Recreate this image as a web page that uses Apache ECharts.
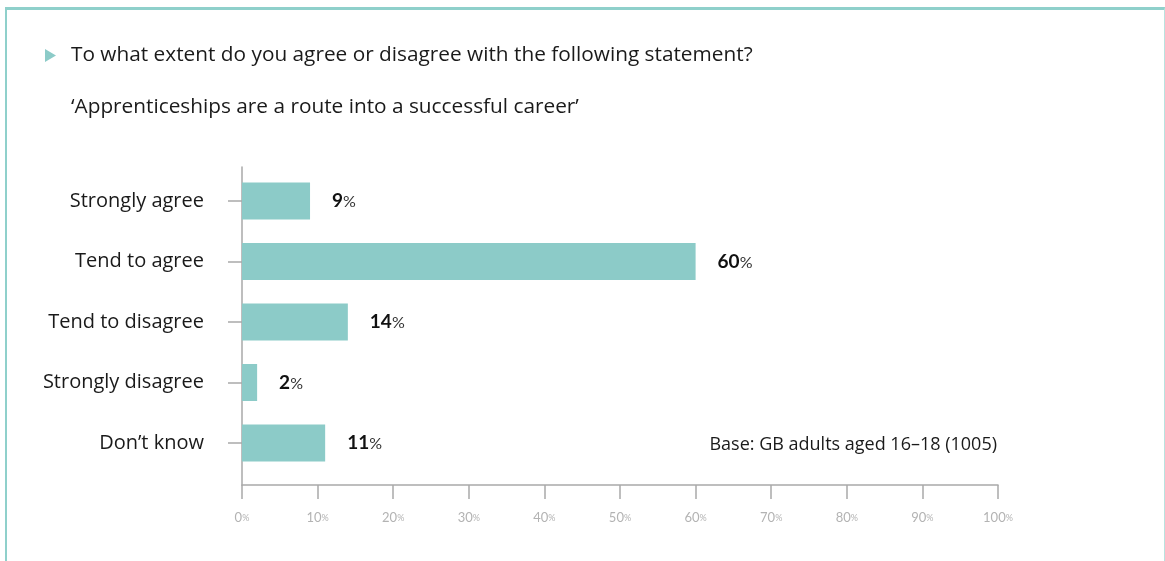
<!DOCTYPE html>
<html>
<head>
<meta charset="utf-8">
<title>Apprenticeships survey</title>
<script src="https://cdn.jsdelivr.net/npm/echarts@6/dist/echarts.min.js"></script>
<style>
  html, body { margin: 0; padding: 0; background: #ffffff; }
  #chart { width: 1165px; height: 561px; }
  #frame {
    position: absolute; left: 5px; top: 7px; width: 1157px; height: 570px;
    border-top: 3px solid #8fd0cb; border-left: 2px solid #8fd0cb; border-right: 1px solid #b9e2df;
    pointer-events: none;
  }
</style>
</head>
<body>
<div id="chart"></div>
<div id="frame"></div>
<script>
// Survey responses, in display order (top to bottom)
const categories = ['Strongly agree', 'Tend to agree', 'Tend to disagree', 'Strongly disagree', 'Don\u2019t know'];
const shares = [9, 60, 14, 2, 11];
const tickValues = [0, 10, 20, 30, 40, 50, 60, 70, 80, 90, 100];

const questionText = 'To what extent do you agree or disagree with the following statement?';
const statementText = '\u2018Apprenticeships are a route into a successful career\u2019';
const baseText = 'Base: GB adults aged 16\u201318 (1005)';

const FONT = '"Open Sans", "Noto Sans", sans-serif';
const BOLD_FONT = 'Lato, "Open Sans", sans-serif';
const TEAL = '#8ccbc8';
const AXIS = '#a9a9a9';

const chart = echarts.init(document.getElementById('chart'), null, { renderer: 'canvas' });

chart.setOption({
  backgroundColor: '#ffffff',
  animation: false,
  textStyle: { fontFamily: FONT },
  graphic: [
    { type: 'polygon', shape: { points: [[45, 49], [56, 55.5], [45, 62]] }, style: { fill: TEAL } },
    { type: 'text', left: 71, top: 45, style: { text: questionText, font: '20.8px ' + FONT, fill: '#1a1a1a' } },
    { type: 'text', left: 71, top: 97, style: { text: statementText, font: '20.8px ' + FONT, fill: '#1a1a1a' } },
    { type: 'text', right: 168, top: 436, style: { text: baseText, font: '18px ' + FONT, fill: '#1a1a1a', align: 'right' } }
  ],
  grid: [
    // bars and category labels
    { left: 242, right: 167, top: 170.75, height: 302.5 },
    // full-height axes frame
    { left: 242, right: 167, top: 167, height: 318 }
  ],
  xAxis: [
    { gridIndex: 0, type: 'value', min: 0, max: 100, show: false },
    {
      gridIndex: 1, type: 'value', min: tickValues[0], max: tickValues[tickValues.length - 1], interval: 10,
      axisLine: { show: true, lineStyle: { color: AXIS, width: 1.5 } },
      axisTick: { show: true, length: 14, lineStyle: { color: AXIS, width: 1.5 } },
      splitLine: { show: false },
      axisLabel: {
        margin: 26,
        formatter: v => '{n|' + v + '}{p|%}',
        rich: {
          n: { fontSize: 13, color: '#b3b3b3', fontFamily: BOLD_FONT },
          p: { fontSize: 9, color: '#b3b3b3', fontFamily: BOLD_FONT, padding: [2, 0, 0, 0] }
        }
      }
    }
  ],
  yAxis: [
    {
      gridIndex: 0, type: 'category', data: categories, inverse: true,
      axisLine: { show: false },
      axisTick: { show: true, alignWithLabel: true, length: 14, lineStyle: { color: AXIS, width: 1.5 } },
      axisLabel: { margin: 38, fontSize: 20, color: '#1a1a1a', fontFamily: FONT, padding: [2, 0, 0, 0] }
    },
    {
      gridIndex: 1, type: 'value', min: 0, max: 1,
      axisLine: { show: true, lineStyle: { color: AXIS, width: 1.5 } },
      axisTick: { show: false }, axisLabel: { show: false }, splitLine: { show: false }
    }
  ],
  series: [
    {
      type: 'bar',
      xAxisIndex: 0, yAxisIndex: 0,
      data: shares,
      barWidth: 37,
      itemStyle: { color: TEAL },
      label: {
        show: true, position: 'right', distance: 22,
        formatter: p => '{b|' + p.value + '}{p|%}',
        rich: {
          b: { fontSize: 19, fontWeight: 'bold', color: '#111111', fontFamily: BOLD_FONT },
          p: { fontSize: 16, color: '#333333', fontFamily: BOLD_FONT, padding: [2, 0, 0, 0] }
        }
      }
    }
  ]
});
</script>
</body>
</html>
